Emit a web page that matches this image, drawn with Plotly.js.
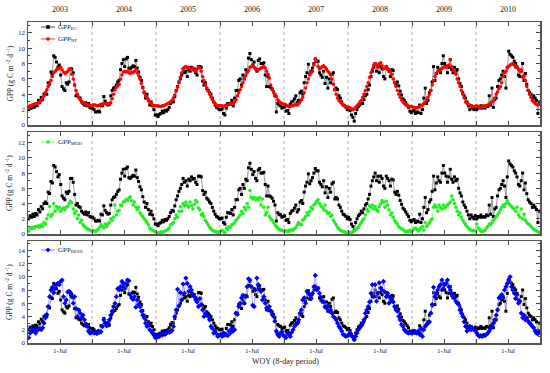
<!DOCTYPE html>
<html><head><meta charset="utf-8">
<script src="https://cdn.plot.ly/plotly-3.0.1.min.js"></script>
<style>html,body{margin:0;padding:0;background:#fff}#chart{width:550px;height:373px}</style>
</head><body><div id="chart"></div>
<script>
const years = [2003, 2004, 2005, 2006, 2007, 2008, 2009, 2010];
const periodsPerYear = 46;
const midYearLabel = '1-Jul';
const xTitle = 'WOY (8-day period)';
const yTitle = 'GPP (g C m<sup> -2</sup> d<sup> -1</sup>)';
const nameEC = 'GPP<sub>EC</sub>';
const nameNF = 'GPP<sub>NF</sub>';
const nameMOD = 'GPP<sub>MOD</sub>';
const nameBESS = 'GPP<sub>BESS</sub>';

const gppEC = [
2.0,2.4,2.2,2.6,2.3,2.7,2.5,3.2,2.9,3.6,3.3,4.0,4.2,4.0,5.5,5.3,6.9,6.7,9.0,8.8,8.2,7.5,7.8,6.5,5.0,4.7,4.5,5.5,5.3,5.6,7.3,7.3,6.8,5.2,3.8,4.0,3.6,3.5,3.0,2.8,2.6,2.9,2.5,2.8,2.3,2.2,
2.2,2.0,1.7,1.7,1.8,1.7,2.6,2.5,3.7,3.1,2.8,2.6,2.7,3.8,4.5,4.8,4.9,5.2,5.6,5.8,7.2,8.0,8.5,7.6,8.6,8.8,7.4,7.3,7.5,7.7,7.6,8.4,7.4,6.9,6.2,5.8,4.9,4.2,3.5,4.0,3.2,2.6,3.0,2.5,2.0,1.3,
1.3,1.1,1.4,1.5,1.8,1.6,1.9,1.8,2.0,2.3,2.8,3.1,3.0,3.7,4.5,5.0,5.6,6.0,6.5,7.3,6.8,7.0,6.3,7.2,7.0,7.5,7.2,7.3,6.8,6.5,7.6,7.6,7.5,5.7,5.2,5.5,4.7,4.5,4.2,4.0,3.5,3.0,2.6,2.3,2.2,2.0,
2.0,2.1,1.5,1.3,2.2,2.8,2.8,2.7,3.2,2.5,3.5,4.5,4.5,5.8,6.0,5.2,6.5,6.0,7.2,7.0,8.7,9.3,8.5,7.8,8.2,7.3,7.0,8.4,8.6,8.0,8.0,8.1,6.5,5.0,6.3,5.0,4.9,4.7,4.3,3.8,1.7,2.8,2.6,2.5,2.2,2.3,
2.4,1.8,1.9,1.5,2.7,3.0,3.1,3.4,3.8,2.9,3.2,4.2,4.4,4.0,5.5,6.3,6.8,7.9,6.6,7.0,7.4,8.0,8.6,8.3,8.3,6.8,6.5,6.2,7.0,5.4,6.2,4.8,6.0,5.5,6.6,6.8,4.6,4.8,4.6,3.8,3.5,3.0,2.6,2.5,2.3,2.0,
2.2,1.9,1.3,1.0,0.5,1.5,2.0,2.4,2.6,3.0,2.8,3.3,3.8,4.0,4.6,5.2,6.3,7.0,7.5,8.0,7.0,7.6,6.8,7.6,7.3,6.3,6.0,7.6,7.3,7.0,6.3,7.2,7.1,5.5,5.2,5.6,5.1,4.4,3.9,3.4,3.2,2.9,2.6,2.3,1.8,1.6,
1.8,1.9,1.5,1.7,1.6,2.6,1.5,2.0,3.5,4.8,2.8,3.2,4.2,4.5,5.6,7.6,5.8,6.7,7.5,7.0,6.8,8.0,9.0,8.0,7.6,6.8,7.5,8.5,7.2,6.8,7.5,7.0,7.2,6.0,5.4,5.0,4.2,3.8,3.5,3.0,2.5,2.0,2.5,2.2,2.0,2.4,
2.0,2.3,2.2,2.5,2.2,2.3,2.2,2.5,2.4,3.8,2.6,4.8,2.3,3.3,3.5,5.0,5.8,6.0,6.5,7.0,6.3,4.8,7.5,9.6,9.2,9.0,8.8,8.3,8.0,7.5,6.5,6.3,7.0,8.0,5.8,6.7,5.3,4.5,4.2,4.0,3.5,3.8,3.5,3.2,1.5,3.0
];

const gppNF = [
2.3,2.5,2.5,2.6,2.7,2.8,2.8,2.9,3.0,3.2,3.5,3.8,4.2,4.6,5.0,5.4,5.8,6.3,6.8,7.0,7.2,7.3,7.4,7.5,7.2,6.9,6.7,6.8,7.0,7.3,7.3,6.6,6.0,5.2,4.5,4.0,3.6,3.3,3.1,2.9,2.8,2.7,2.7,2.6,2.6,2.5,
2.6,2.6,2.6,2.5,2.5,2.6,2.7,2.7,2.8,2.8,2.7,2.8,2.8,2.9,3.4,4.0,4.6,4.9,5.1,5.3,6.0,6.5,6.9,7.0,6.9,7.0,6.8,6.7,6.9,6.8,7.0,7.3,6.8,6.4,6.0,5.4,4.8,4.3,3.8,3.6,3.3,3.0,2.8,2.6,2.5,2.5,
2.5,2.5,2.4,2.4,2.5,2.5,2.6,2.7,2.8,2.9,3.0,3.2,3.5,3.9,4.4,4.9,5.5,6.2,6.8,7.3,7.5,7.6,7.4,7.5,7.3,7.2,7.4,7.1,7.0,7.3,7.5,7.4,7.0,6.3,5.8,5.2,4.8,4.4,4.0,3.6,3.3,3.0,2.8,2.6,2.5,2.5,
2.5,2.5,2.4,2.5,2.6,2.6,2.7,2.7,2.8,2.8,3.0,3.3,3.8,4.2,4.6,5.0,5.5,6.0,6.4,6.8,7.1,7.5,7.6,7.7,7.5,7.3,7.2,7.2,7.3,7.4,7.5,7.6,7.4,7.0,6.6,6.1,5.2,4.6,4.3,4.0,3.7,3.3,3.1,2.9,2.8,2.7,
2.7,2.6,2.5,2.4,2.4,2.5,2.5,2.6,2.7,2.6,2.8,3.0,3.3,3.6,4.2,4.8,5.5,6.0,6.5,6.8,7.0,7.8,8.6,8.4,7.6,7.3,7.4,7.6,7.7,7.5,7.3,7.0,6.8,6.5,6.0,5.3,4.6,4.0,3.5,3.2,3.0,2.8,2.6,2.5,2.4,2.3,
2.3,2.2,2.1,2.0,2.1,2.3,2.5,2.7,3.0,3.2,3.6,4.0,4.5,5.0,5.5,6.2,6.8,7.3,7.8,8.0,7.8,7.5,8.0,8.1,7.7,7.3,7.4,7.6,7.3,7.2,7.0,6.6,6.0,5.5,5.0,4.5,4.0,3.6,3.3,3.0,2.8,2.6,2.5,2.4,2.4,2.4,
2.3,2.3,2.2,2.2,2.3,2.4,2.5,2.6,2.8,3.0,3.3,3.6,4.0,4.5,5.2,5.8,6.3,6.7,7.0,7.1,7.3,7.3,7.5,7.6,7.5,7.7,7.8,8.5,7.6,7.2,7.0,6.6,6.0,5.5,5.0,4.5,4.0,3.5,3.0,2.8,2.7,2.6,2.5,2.4,2.4,2.4,
2.5,2.4,2.3,2.3,2.4,2.5,2.4,2.5,2.6,2.7,2.9,3.0,3.2,3.5,4.0,4.3,4.7,5.0,5.5,6.3,6.8,7.0,7.4,7.6,7.8,7.9,8.0,7.8,7.5,7.6,7.3,7.0,7.2,6.2,6.4,5.8,5.0,4.5,4.0,3.6,3.2,3.0,2.8,2.7,2.6,2.7
];

const gppMOD = [
0.4,0.8,0.7,0.9,0.8,1.0,1.0,1.1,0.9,1.2,1.0,1.5,1.3,2.0,2.5,3.6,2.3,2.6,4.0,3.0,3.6,3.3,3.5,3.0,3.3,3.4,3.2,3.5,3.6,4.0,4.3,4.1,3.3,2.7,3.0,2.0,2.5,1.5,1.8,1.2,1.0,0.9,0.7,0.6,0.5,0.4,
0.5,0.4,0.3,0.5,0.6,0.9,1.2,1.0,0.8,1.3,1.0,1.3,1.5,2.0,1.8,2.2,3.8,2.5,3.0,3.1,3.8,3.7,4.2,4.3,4.5,4.4,4.7,4.9,4.4,3.8,4.2,3.5,3.2,3.5,2.8,2.5,2.3,2.0,1.8,1.5,1.2,0.8,0.6,0.5,0.4,0.3,
0.2,0.1,0.2,0.3,0.2,0.3,0.4,0.5,0.6,0.8,1.2,1.3,1.5,2.0,2.5,2.2,3.0,3.6,3.0,4.0,3.7,4.2,3.8,3.5,4.2,3.7,3.3,3.9,4.4,4.2,3.4,3.2,2.5,2.7,2.3,1.8,1.5,1.2,0.9,0.7,0.5,0.4,0.3,0.3,0.2,0.3,
0.4,0.5,0.3,0.2,0.8,0.6,1.0,0.9,1.2,1.3,1.5,1.8,2.0,2.2,2.5,3.0,2.7,3.5,3.2,4.0,3.5,5.7,4.8,4.6,4.8,4.5,4.7,4.5,4.8,3.8,4.6,3.5,2.5,2.8,3.5,2.3,2.0,1.8,1.5,1.2,1.0,0.8,0.6,0.5,0.5,0.4,
0.5,0.4,0.3,0.5,0.4,0.6,0.5,0.7,0.9,1.2,1.5,1.3,1.2,1.8,2.0,2.3,2.8,2.5,3.0,3.5,3.3,3.8,4.0,4.3,4.5,4.0,3.7,3.5,3.2,3.8,3.0,2.7,2.8,2.3,2.5,1.8,1.5,1.2,0.9,0.7,0.5,0.4,0.3,0.3,0.2,0.2,
0.3,0.2,0.1,0.3,0.4,0.6,0.7,0.9,1.2,1.5,1.8,2.0,2.5,3.3,3.0,3.7,3.5,3.8,3.3,3.6,3.2,3.0,3.6,4.0,4.4,4.2,3.5,4.3,3.8,3.2,2.5,2.8,2.2,1.8,1.5,1.3,1.0,0.8,0.7,0.6,0.4,0.3,0.4,0.3,0.5,0.3,
0.5,0.7,0.8,0.6,0.4,0.6,0.8,1.0,0.5,1.5,1.0,1.2,1.5,1.8,2.0,3.5,3.8,3.5,3.0,3.8,3.5,3.3,3.8,3.4,3.6,3.8,4.0,4.2,5.0,4.5,4.0,3.5,3.0,2.5,2.8,2.2,1.8,1.5,1.2,1.0,0.8,0.6,0.5,0.4,0.5,0.4,
1.3,0.8,0.6,0.4,0.3,0.4,0.5,0.8,1.0,1.3,1.2,1.5,1.8,2.0,2.3,2.5,2.8,3.2,3.5,3.8,3.6,4.0,4.4,4.0,3.8,3.6,3.4,3.3,3.0,3.5,2.5,2.2,3.3,2.0,2.6,1.8,1.5,1.3,1.2,1.0,0.8,0.6,0.5,0.4,0.3,0.2
];

const gppBESS = [
0.8,1.5,2.0,1.8,2.0,1.5,2.0,2.0,2.2,2.0,2.3,3.0,3.8,4.3,5.5,7.0,8.0,8.4,7.6,8.2,8.8,9.0,8.8,9.3,9.5,7.0,6.0,6.5,7.7,7.8,7.6,7.0,6.0,7.0,5.2,4.0,5.0,4.5,3.8,4.2,3.5,2.8,2.5,1.8,1.5,1.6,
1.7,1.5,1.6,1.4,1.8,1.6,1.7,2.5,3.5,3.0,2.6,3.0,3.5,4.2,4.8,5.5,6.0,7.0,8.2,8.0,8.5,9.3,9.0,8.2,9.0,9.5,9.4,7.3,6.8,6.6,7.0,5.4,6.5,5.8,5.5,4.8,4.2,3.8,3.0,2.5,2.8,2.0,1.8,1.5,1.2,0.8,
0.8,1.2,1.0,1.3,1.2,1.4,1.3,1.5,1.8,1.6,1.7,1.9,2.5,4.0,5.0,8.1,5.6,7.6,6.5,8.9,7.5,9.8,9.0,7.8,8.5,8.0,7.4,7.0,6.5,6.2,5.5,6.7,5.8,5.0,4.0,4.5,4.2,4.0,3.5,2.5,2.2,1.5,1.8,1.4,1.0,1.2,
1.3,1.0,1.5,1.2,1.3,1.1,1.8,1.5,2.2,1.8,2.0,4.5,4.3,5.5,6.0,6.8,7.2,6.0,7.0,8.5,9.7,9.5,8.5,5.7,5.5,8.0,9.8,8.8,8.0,7.8,6.5,7.0,6.0,5.3,5.0,5.5,4.8,4.3,4.0,3.3,1.8,1.3,1.0,1.5,1.7,1.2,
1.0,0.8,1.5,1.3,1.0,1.6,2.0,2.5,2.8,3.0,3.5,4.5,5.0,6.5,6.8,6.0,7.8,7.5,7.3,6.7,7.5,8.5,10.2,8.0,8.3,7.5,6.9,6.3,6.2,5.5,5.3,5.6,4.8,5.0,4.5,4.0,3.8,3.5,3.0,2.5,2.2,1.8,1.3,1.2,1.0,1.1,
1.2,1.5,1.1,0.9,0.5,1.0,1.5,2.0,2.3,2.6,3.0,3.5,4.5,5.0,5.5,6.2,7.5,8.8,7.0,8.8,6.3,7.5,9.1,8.3,8.0,9.3,7.7,7.0,7.5,6.0,6.8,6.7,6.2,5.5,5.0,4.8,4.0,3.5,2.8,2.5,2.0,1.8,1.6,1.5,1.6,1.5,
1.5,1.7,1.6,1.5,1.8,1.3,2.2,1.0,2.0,2.5,2.8,3.0,3.2,4.5,5.8,8.4,7.0,7.5,8.0,8.5,8.8,9.5,8.2,8.8,9.0,9.5,8.5,8.0,7.5,7.0,6.8,6.3,6.0,5.8,5.0,4.5,4.0,3.2,2.5,1.8,2.2,2.5,2.0,2.2,2.0,1.9,
1.5,1.2,1.0,1.1,1.0,1.2,1.1,1.3,1.5,1.8,2.2,2.5,3.0,3.5,4.2,5.0,6.8,7.0,7.3,6.8,8.0,8.5,9.0,9.5,10.0,8.5,8.0,7.5,6.7,7.3,6.0,6.3,4.5,3.8,4.2,3.5,3.8,3.3,3.0,2.8,2.5,2.3,1.8,1.5,1.4,1.7
];

// x position of each 8-day period, in fractional years
const xVals = gppEC.map((_, k) => years[Math.floor(k / periodsPerYear)] + ((k % periodsPerYear) + 0.5) / periodsPerYear);

const W = 550, H = 373, L = 28, R = 10, T = 22, B = 30;
const plotW = W - L - R, plotH = H - T - B;
const pX = px => (px - L) / plotW;
const pY = py => (H - B - py) / plotH;
const FONT = '"Liberation Serif", "Times New Roman", serif';
const TXT = '#222';

const dom1 = [pY(125), 1];
const dom2 = [pY(234), pY(132)];
const dom3 = [0, pY(241)];

const midVals = years.map(y => y + 0.5);
const midText = years.map(() => midYearLabel);
const boundaryVals = years.concat([years[years.length - 1] + 1]);

function xAxis(anchor, showLabels) {
  return {
    domain: [0, 1], anchor: anchor, range: [years[0], years[years.length - 1] + 1],
    tickmode: 'array', tickvals: midVals, ticktext: midText, showticklabels: showLabels,
    ticks: 'inside', ticklen: 4, tickwidth: 1, tickcolor: '#444',
    minor: { tickmode: 'array', tickvals: boundaryVals, ticks: 'inside', ticklen: 4, tickwidth: 1, tickcolor: '#444', showgrid: false },
    showline: true, linecolor: '#555', linewidth: 1.5, mirror: 'ticks',
    showgrid: false, zeroline: false,
    tickfont: { family: FONT, size: 7, color: TXT }
  };
}
function yAxis(anchor, domain, top) {
  return {
    domain: domain, anchor: anchor, range: [0, top], tick0: 0, dtick: 2,
    ticks: 'inside', ticklen: 4, tickwidth: 1, tickcolor: '#444',
    minor: { dtick: 1, ticks: 'inside', ticklen: 2, tickcolor: '#444' },
    showline: true, linecolor: '#555', linewidth: 1.5, mirror: 'ticks',
    showgrid: false, zeroline: false,
    tickfont: { family: FONT, size: 7, color: TXT }
  };
}

const styleEC = { mode: 'lines+markers', line: { color: '#555', width: 0.6 }, marker: { symbol: 'square', size: 3, color: '#000' } };
const styleNF = { mode: 'lines+markers', line: { color: '#ff3333', width: 0.6 }, marker: { symbol: 'circle', size: 3.5, color: '#ff0000' } };
const styleMOD = { mode: 'lines+markers', line: { color: '#66ff66', width: 0.6 }, marker: { symbol: 'circle', size: 3.5, color: '#22ee22' } };
const styleBESS = { mode: 'lines+markers', line: { color: '#8888ff', width: 0.7 }, marker: { symbol: 'diamond', size: 4, color: '#0000ff' } };

function tr(y, style, xa, ya) {
  return Object.assign({ type: 'scatter', x: xVals, y: y, xaxis: xa, yaxis: ya, showlegend: false, hoverinfo: 'skip' }, style);
}

const data = [
  tr(gppEC, styleEC, 'x', 'y'),
  tr(gppNF, styleNF, 'x', 'y'),
  tr(gppEC, styleEC, 'x2', 'y2'),
  tr(gppMOD, styleMOD, 'x2', 'y2'),
  tr(gppEC, styleEC, 'x3', 'y3'),
  tr(gppBESS, styleBESS, 'x3', 'y3')
];

const shapes = [];
const annotations = [];

// dotted year boundaries
[['x', 'y'], ['x2', 'y2'], ['x3', 'y3']].forEach(([xa, ya]) => {
  years.slice(1).forEach(yr => {
    shapes.push({ type: 'line', xref: xa, yref: ya + ' domain', x0: yr, x1: yr, y0: 0, y1: 1, line: { color: '#9a9a9a', width: 0.8, dash: 'dot' }, layer: 'below' });
  });
});

// legend entries drawn manually (short line sample)
function legendItem(py, style, label) {
  const x0 = pX(41), x1 = pX(55), xc = pX(48), y = pY(py);
  shapes.push({ type: 'line', xref: 'paper', yref: 'paper', x0: x0, x1: x1, y0: y, y1: y, line: { color: style.line.color, width: 1 } });
  const r = 1.8;
  const sym = style.marker.symbol;
  if (sym === 'square') {
    shapes.push({ type: 'rect', xref: 'paper', yref: 'paper', x0: pX(48 - r), x1: pX(48 + r), y0: pY(py + r), y1: pY(py - r), fillcolor: style.marker.color, line: { width: 0 } });
  } else if (sym === 'circle') {
    shapes.push({ type: 'circle', xref: 'paper', yref: 'paper', x0: pX(48 - r), x1: pX(48 + r), y0: pY(py + r), y1: pY(py - r), fillcolor: style.marker.color, line: { width: 0 } });
  } else {
    const d = 2.5;
    shapes.push({ type: 'path', xref: 'paper', yref: 'paper', path: `M${pX(48 - d)},${y} L${xc},${pY(py - d)} L${pX(48 + d)},${y} L${xc},${pY(py + d)} Z`, fillcolor: style.marker.color, line: { width: 0 } });
  }
  annotations.push({ xref: 'paper', yref: 'paper', x: pX(56), y: y, xanchor: 'left', yanchor: 'middle', showarrow: false, text: label, font: { family: FONT, size: 7, color: TXT } });
}
legendItem(27, styleEC, nameEC);
legendItem(39, styleNF, nameNF);
legendItem(142, styleMOD, nameMOD);
legendItem(250, styleBESS, nameBESS);

// year labels on top
years.forEach(yr => {
  annotations.push({ xref: 'x', yref: 'paper', x: yr + 0.5, y: pY(10), xanchor: 'center', yanchor: 'middle', showarrow: false, text: String(yr), font: { family: FONT, size: 8, color: TXT } });
});

// y titles
[dom1, dom2, dom3].forEach(d => {
  annotations.push({ xref: 'paper', yref: 'paper', x: pX(9), y: (d[0] + d[1]) / 2, xanchor: 'center', yanchor: 'middle', textangle: -90, showarrow: false, text: yTitle, font: { family: FONT, size: 7.5, color: TXT } });
});

// x title
annotations.push({ xref: 'paper', yref: 'paper', x: pX(285), y: pY(361), xanchor: 'center', yanchor: 'middle', showarrow: false, text: xTitle, font: { family: FONT, size: 8, color: TXT } });

const layout = {
  width: W, height: H,
  margin: { l: L, r: R, t: T, b: B, pad: 0 },
  paper_bgcolor: '#fff', plot_bgcolor: '#fff',
  showlegend: false,
  xaxis: xAxis('y', false),
  xaxis2: xAxis('y2', false),
  xaxis3: xAxis('y3', true),
  yaxis: yAxis('x', dom1, 13.4),
  yaxis2: yAxis('x2', dom2, 13.4),
  yaxis3: yAxis('x3', dom3, 15.4),
  shapes: shapes,
  annotations: annotations
};

Plotly.newPlot('chart', data, layout, { staticPlot: true, displayModeBar: false });
</script></body></html>
